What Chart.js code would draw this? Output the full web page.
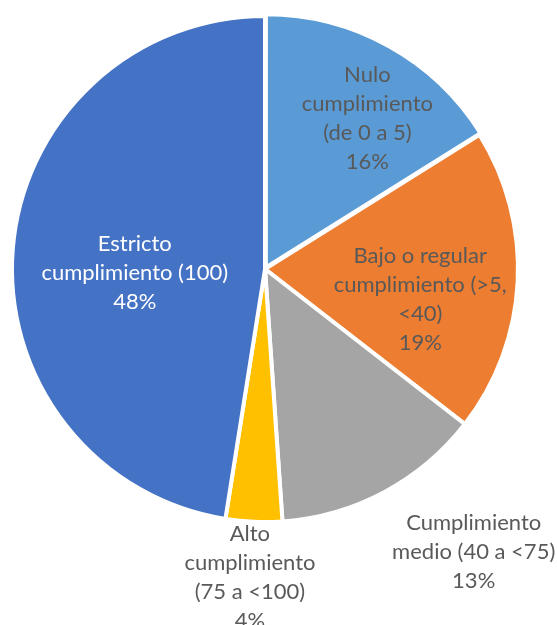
<!DOCTYPE html>
<html>
<head>
<meta charset="utf-8">
<script src="https://cdn.jsdelivr.net/npm/chart.js@4.4.1/dist/chart.umd.min.js"></script>
<style>
    html, body { margin: 0; padding: 0; background: #ffffff; }
    #wrap { width: 557px; height: 625px; position: relative; }
</style>
</head>
<body>
<div id="wrap"><canvas id="pieChart"></canvas></div>
<script>
// chart values
const categories = [
    'Nulo cumplimiento (de 0 a 5)',
    'Bajo o regular cumplimiento (>5, <40)',
    'Cumplimiento medio (40 a <75)',
    'Alto cumplimiento (75 a <100)',
    'Estricto cumplimiento (100)'
];
// shares (labels show them rounded)
const shares = [16.1, 19.4, 13.4, 3.6, 47.5];

// label text as it wraps in the picture
const labelLines = [
    ['Nulo', 'cumplimiento', '(de 0 a 5)', '16%'],
    ['Bajo o regular', 'cumplimiento (>5,', '<40)', '19%'],
    ['Cumplimiento', 'medio (40 a <75)', '13%'],
    ['Alto', 'cumplimiento', '(75 a <100)', '4%'],
    ['Estricto', 'cumplimiento (100)', '48%']
];

const sliceColors = ['#5B9BD5', '#ED7D31', '#A5A5A5', '#FFC000', '#4472C4'];
const labelColors = ['#595959', '#595959', '#595959', '#595959', '#ffffff'];
// where each label sits: distance as share of the radius, angle in degrees
const labelPlaces = [
    { dist: 0.72, angle: -55.8 },
    { dist: 0.625, angle: 11.0 },
    { dist: 1.39, angle: 53.6 },
    { dist: 1.22, angle: 92.8 },
    { dist: 0.515, angle: 178.2 }
];

const pieRadius = 253;
const lineHeight = 29;

const sliceLabels = {
    id: 'sliceLabels',
    afterDatasetsDraw(chart) {
        const ctx = chart.ctx;
        const meta = chart.getDatasetMeta(0);
        ctx.save();
        ctx.font = '22px Lato';
        ctx.textAlign = 'center';
        ctx.textBaseline = 'middle';
        meta.data.forEach((arc, i) => {
            const { x, y, outerRadius } = arc.getProps(['x', 'y', 'outerRadius'], true);
            const place = labelPlaces[i];
            const a = place.angle * Math.PI / 180;
            const cx = x + Math.cos(a) * outerRadius * place.dist;
            const cy = y + Math.sin(a) * outerRadius * place.dist;
            const lines = labelLines[i];
            const top = cy - (lines.length - 1) * lineHeight / 2;
            ctx.fillStyle = labelColors[i];
            lines.forEach((line, j) => {
                ctx.fillText(line, cx, top + j * lineHeight);
            });
        });
        ctx.restore();
    }
};

const pieChart = new Chart(document.getElementById('pieChart'), {
    type: 'pie',
    data: {
        labels: categories,
        datasets: [{
            data: shares,
            backgroundColor: sliceColors,
            borderColor: '#ffffff',
            borderWidth: 4,
            offset: [7, 0, 0, 0, 0]
        }]
    },
    options: {
        responsive: true,
        maintainAspectRatio: false,
        animation: false,
        radius: pieRadius,
        layout: {
            padding: { left: 0, right: 27, top: 0, bottom: 87 }
        },
        plugins: {
            legend: { display: false },
            tooltip: { enabled: false }
        }
    },
    plugins: [sliceLabels]
});
</script>
</body>
</html>
